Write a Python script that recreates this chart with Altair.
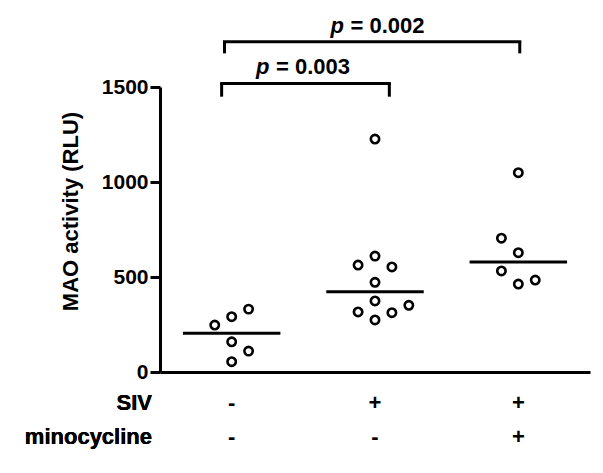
import altair as alt
import pandas as pd

# ---- data ----
groups = ["SIV-/mino-", "SIV+/mino-", "SIV+/mino+"]
g1_values = [247, 291, 331, 159, 110, 54]
g1_jitter = [-1, 0, 1, 0, 1, 0]
g2_values = [1226, 610, 563, 553, 472, 374, 351, 316, 312, 274]
g2_jitter = [0, 0, -1, 1, 0, 0, 2, -1, 1, 0]
g3_values = [1049, 704, 628, 532, 484, 463]
g3_jitter = [0, -1, 0, -1, 1, 0]
medians = [204, 423, 579]

siv_labels = ["-", "+", "+"]
mino_labels = ["-", "-", "+"]
row_names = ["SIV", "minocycline"]

# brackets: left, right (group units), top value, tick-bottom value
br_left = [-0.07, -0.05]
br_right = [1.10, 2.01]
br_top = [1519, 1738]
br_bottom = [1449, 1677]
p_texts = ["= 0.003", "= 0.002"]
p_x = [0.17, 0.69]
p_y = [1568, 1784]

JIT = 0.118
HALF = 0.34
FONT = "Liberation Sans"
FS = 22

rows = []
for gi, (vals, jit) in enumerate([(g1_values, g1_jitter), (g2_values, g2_jitter), (g3_values, g3_jitter)]):
    for v, j in zip(vals, jit):
        rows.append({"group": groups[gi], "gidx": gi, "jit": j, "value": v})
pts = pd.DataFrame(rows)

med = pd.DataFrame({"group": groups, "gidx": [0, 1, 2], "median": medians})
br = pd.DataFrame({"left": br_left, "right": br_right, "top": br_top, "bottom": br_bottom})
brv = pd.DataFrame({
    "x": br_left + br_right,
    "top": br_top + br_top,
    "bottom": br_bottom + br_bottom,
})
ptxt = pd.DataFrame({"x": p_x, "y": p_y, "txt": p_texts})
lab = pd.DataFrame({"gidx": [0, 1, 2], "siv": siv_labels, "mino": mino_labels})

xs = alt.Scale(domain=[-0.5, 2.5], nice=False, zero=False)
ys = alt.Scale(domain=[0, 1500], nice=False, zero=True)
xax = alt.Axis(title=None, labels=False, ticks=False, grid=False, domainWidth=3, domainColor="black")
yax = alt.Axis(title="MAO activity (RLU)", values=[0, 500, 1000, 1500], format="d",
               grid=False, tickSize=10, tickWidth=3, tickColor="black",
               domainWidth=3, domainColor="black",
               labelFontSize=21, labelFontWeight="bold", labelPadding=2, labelColor="black",
               titleFontSize=22, titleFontWeight="bold", titleColor="black",
               titlePadding=19, titleY=124)


def X(field):
    return alt.X(field, scale=xs, axis=xax, title=None)


def Y(field):
    return alt.Y(field, scale=ys, axis=yax, title="MAO activity (RLU)")


points = alt.Chart(pts).transform_calculate(
    xpos=f"datum.gidx + datum.jit * {JIT}"
).mark_point(shape="circle", filled=False, color="black", strokeWidth=2.6, size=70, opacity=1).encode(
    x=X("xpos:Q"), y=Y("value:Q"),
)

med_rules = alt.Chart(med).transform_calculate(
    x1=f"datum.gidx - {HALF}", x2=f"datum.gidx + {HALF}"
).mark_rule(color="black", strokeWidth=3).encode(
    x=X("x1:Q"), x2="x2:Q", y=Y("median:Q"),
)

br_h = alt.Chart(br).mark_rule(color="black", strokeWidth=3, strokeCap="square").encode(
    x=X("left:Q"), x2="right:Q", y=Y("top:Q"),
)
br_v = alt.Chart(brv).mark_rule(color="black", strokeWidth=3).encode(
    x=X("x:Q"), y=Y("top:Q"), y2="bottom:Q",
)

p_italic = alt.Chart(ptxt).mark_text(text="p", align="left", baseline="alphabetic", font=FONT,
                                      fontSize=FS, fontWeight="bold", fontStyle="italic", color="black").encode(
    x=X("x:Q"), y=Y("y:Q"),
)
p_rest = alt.Chart(ptxt).mark_text(align="left", baseline="alphabetic", font=FONT, dx=20,
                                    fontSize=FS, fontWeight="bold", color="black").encode(
    x=X("x:Q"), y=Y("y:Q"), text="txt:N",
)

siv_row = alt.Chart(lab).mark_text(baseline="middle", font=FONT, fontSize=FS, fontWeight="bold",
                                    color="black").encode(
    x=X("gidx:Q"), y=alt.value(316), text="siv:N",
)
mino_row = alt.Chart(lab).mark_text(baseline="middle", font=FONT, fontSize=FS, fontWeight="bold",
                                     color="black").encode(
    x=X("gidx:Q"), y=alt.value(350), text="mino:N",
)
name1 = alt.Chart(lab).mark_text(text=row_names[0], align="right", baseline="middle", font=FONT,
                                  fontSize=FS, fontWeight="bold", color="black").encode(
    x=alt.value(-8), y=alt.value(316),
)
name2 = alt.Chart(lab).mark_text(text=row_names[1], align="right", baseline="middle", font=FONT,
                                  fontSize=FS, fontWeight="bold", color="black").encode(
    x=alt.value(-8), y=alt.value(350),
)

chart = alt.layer(points, med_rules, br_h, br_v, p_italic, p_rest, siv_row, mino_row, name1, name2).properties(
    width=430, height=285,
    autosize=alt.AutoSizeParams(type="none"),
    padding={"left": 152, "top": 79, "right": 5, "bottom": 95},
).configure_view(stroke=None).configure_axis(labelFont=FONT, titleFont=FONT)

chart.save("out.html", embed_options={"renderer": "svg", "actions": False})
